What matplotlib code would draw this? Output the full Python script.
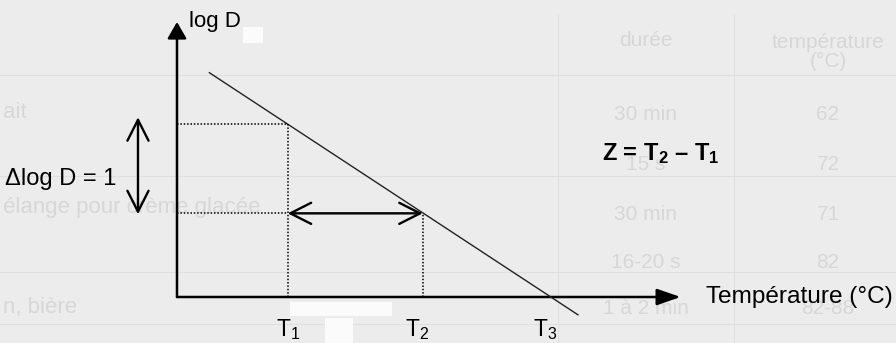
import matplotlib.pyplot as plt
from matplotlib.patches import Rectangle

plt.rcParams['font.family'] = ['Liberation Sans', 'DejaVu Sans']
plt.rcParams['mathtext.fontset'] = 'custom'
plt.rcParams['mathtext.rm'] = 'Liberation Sans'
plt.rcParams['mathtext.it'] = 'Liberation Sans'
plt.rcParams['mathtext.bf'] = 'Liberation Sans:bold'

# schematic values: temperature in units of Z, log D in decades
line_temp = [0.24, 2.97]
line_logd = [2.52, -0.20]
t_names = ['T$_1$', 'T$_2$', 'T$_3$']
t_values = [0.82, 1.82, 2.77]
t_logd = [1.94, 0.94, 0.0]
x_axis_end = 3.73
y_axis_end = 3.09

# faded table showing through the scan
table_head = ['durée', 'température\n(°C)']
table_dur = ['30 min', '15 s', '30 min', '16-20 s', '1 à 2 min']
table_temp = ['62', '72', '71', '82', '82-88']
table_rows = ['ait', '', 'élange pour crème glacée', '', 'n, bière']

# pixel layout of the scanned picture
X0, Y0, SX, SY = 177, 297, 135, 89


def px(x, y):
    return (x - X0) / SX, (Y0 - y) / SY


fig = plt.figure(figsize=(8.96, 3.43), dpi=100)
fig.patch.set_facecolor('#ececec')
ax = fig.add_axes([0, 0, 1, 1])
ax.set_xlim(-X0 / SX, (896 - X0) / SX)
ax.set_ylim(-(343 - Y0) / SY, Y0 / SY)
ax.axis('off')

# background table (very faint)
faint = '#d7d7d7'
for y in [75, 176, 272, 324]:
    ax.plot(*zip(px(0, y), px(896, y)), color='#e0e0e0', lw=0.8, zorder=0)
for x in [558, 734]:
    ax.plot(*zip(px(x, 15), px(x, 343)), color='#e0e0e0', lw=0.8, zorder=0)
ax.text(*px(646, 40), table_head[0], color=faint, fontsize=15, ha='center', va='center', zorder=0)
ax.text(*px(828, 52), table_head[1], color=faint, fontsize=15, ha='center', va='center',
        linespacing=1.0, zorder=0)
for i, y in enumerate([115, 165, 215, 262, 309]):
    ax.text(*px(646, y), table_dur[i], color=faint, fontsize=15, ha='center', va='center', zorder=0)
    ax.text(*px(828, y), table_temp[i], color=faint, fontsize=15, ha='center', va='center', zorder=0)
for y, lab in zip([112, 163, 207, 262, 308], table_rows):
    ax.text(*px(3, y), lab, color=faint, fontsize=16, ha='left', va='center', zorder=0)

# white scan patches
for x, y, w, h in [(290, 302, 102, 14), (325, 318, 28, 25), (243, 27, 20, 16)]:
    x0, y0 = px(x, y + h)
    ax.add_patch(Rectangle((x0, y0), w / SX, h / SY, color='#fbfbfb', lw=0, zorder=1))

# axes with filled arrow heads
ax.annotate('', xy=(0, y_axis_end), xytext=(0, 0),
            arrowprops=dict(arrowstyle='-|>,head_length=0.5,head_width=0.29', mutation_scale=20,
                            lw=1.8, color='black', shrinkA=0, shrinkB=0), zorder=3)
ax.annotate('', xy=(x_axis_end, 0), xytext=(0, 0),
            arrowprops=dict(arrowstyle='-|>,head_length=0.72,head_width=0.25', mutation_scale=20,
                            lw=1.8, color='black', shrinkA=0, shrinkB=0), zorder=3)

# decimal reduction line
ax.plot(line_temp, line_logd, color='#222222', lw=1.0, zorder=3)

# dotted guides
dots = dict(color='black', lw=1.1, linestyle=(0, (1, 1.2)), zorder=3)
ax.plot([0, t_values[0]], [t_logd[0], t_logd[0]], **dots)
ax.plot([t_values[0], t_values[0]], [0, t_logd[0]], **dots)
ax.plot([0, t_values[0]], [t_logd[1], t_logd[1]], **dots)
ax.plot([t_values[1], t_values[1]], [0, t_logd[1]], **dots)

# double arrows
dbl = dict(arrowstyle='<->,head_length=0.75,head_width=0.38', mutation_scale=20,
           lw=1.7, color='black', shrinkA=0, shrinkB=0)
ax.annotate('', xy=(t_values[0], t_logd[1]), xytext=(t_values[1], t_logd[1]), arrowprops=dbl, zorder=4)
ax.annotate('', xy=(-0.289, 2.02), xytext=(-0.289, 0.93), arrowprops=dbl, zorder=4)

# labels
ax.text(*px(189, 27), 'log D', fontsize=16, ha='left', va='baseline', zorder=5)
ax.text(*px(5, 185), 'Δlog D = 1', fontsize=17, ha='left', va='baseline', zorder=5)
ax.text(*px(602, 160), r'Z = $\mathbf{T_2}$ – $\mathbf{T_1}$', fontsize=17, fontweight='bold',
        ha='left', va='baseline', zorder=5)
ax.text(*px(706, 303), 'Température (°C)', fontsize=17.6, ha='left', va='baseline', zorder=5)
for name, t, dx in zip(t_names, t_values, [0, -6, -6]):
    ax.annotate(name, (t, 0), xytext=(dx * 0.72, -39 * 0.72), textcoords='offset points',
                fontsize=16.5, ha='center', va='baseline', zorder=5)

fig.savefig('out.png', dpi=100, facecolor=fig.get_facecolor())
